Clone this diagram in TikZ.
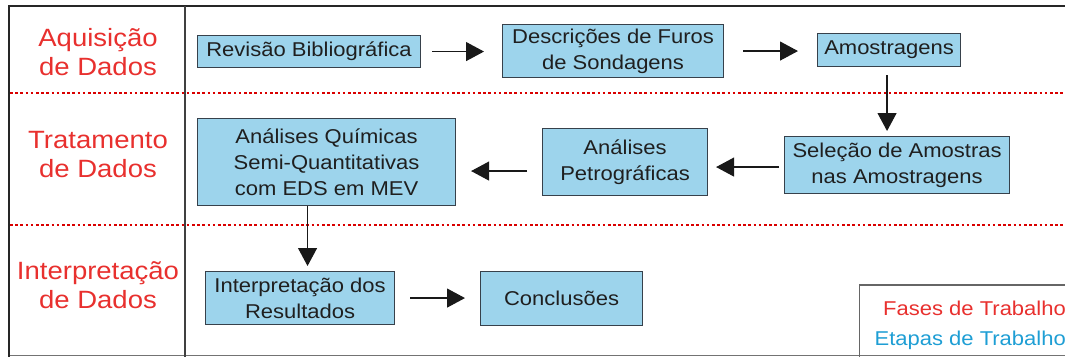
\documentclass[tikz,border=0pt]{standalone}
\usepackage{fontspec}
\setmainfont{Liberation Sans}[FakeStretch=1.1]
\usetikzlibrary{arrows.meta}
\definecolor{phasered}{RGB}{232,48,46}
\definecolor{stepblue}{RGB}{30,158,212}
\definecolor{boxfill}{RGB}{157,212,236}
\definecolor{boxline}{RGB}{55,65,75}
\tikzset{
  stepbox/.style={draw=boxline, line width=1.1pt, fill=boxfill, inner sep=0pt, anchor=north west,
    align=center, font=\fontsize{20}{26}\selectfont, text=black!88},
  phase/.style={text=phasered, align=center, font=\fontsize{25}{29}\selectfont, inner sep=0pt},
  flow/.style={line width=1.2pt, draw=black!90, -{Triangle[length=18pt,width=19pt]}},
  sepline/.style={draw=red!85!black, line width=1.3pt, dash pattern=on 2.6pt off 2.6pt},
}
\begin{document}
\begin{tikzpicture}[x=1pt,y=-1pt]
\useasboundingbox (0,0) rectangle (1065,356);
% frame
\draw[black!55, line width=1pt] (9,355.5) -- (1065,355.5);
\draw[black!85, line width=2.5pt] (9,6) -- (1066,6);
\draw[black!85, line width=2pt] (9,5) -- (9,357);
\draw[black!75, line width=1.2pt] (185,6) -- (185,357);
% separators
\draw[sepline] (10,93) -- (1065,93);
\draw[sepline] (10,225) -- (1065,225);
% phases
\node[phase] (p1) at (98,52) {Aquisição\\de Dados};
\node[phase] (p2) at (98,155) {Tratamento\\de Dados};
\node[phase] (p3) at (98,285) {Interpretação\\de Dados};
% steps
\node[stepbox, minimum width=223pt, minimum height=32pt] (rev) at (197,35) {Revisão Bibliográfica};
\node[stepbox, minimum width=221pt, minimum height=53pt] (des) at (502,24) {Descrições de Furos\\de Sondagens};
\node[stepbox, minimum width=143pt, minimum height=33pt] (amo) at (817,33) {Amostragens};
\node[stepbox, minimum width=225pt, minimum height=57pt] (sel) at (784,136) {Seleção de Amostras\\nas Amostragens};
\node[stepbox, minimum width=165pt, minimum height=67pt] (pet) at (542,128) {Análises\\Petrográficas};
\node[stepbox, minimum width=258pt, minimum height=87pt] (qui) at (197,118) {Análises Químicas\\Semi-Quantitativas\\com EDS em MEV};
\node[stepbox, minimum width=189pt, minimum height=53pt] (int) at (205,271) {Interpretação dos\\Resultados};
\node[stepbox, minimum width=162pt, minimum height=54pt] (con) at (480,271) {Conclusões};
% connectors
\draw[flow, shorten <=11pt, shorten >=18pt] (rev.east) -- (rev.east -| des.west);
\draw[flow, shorten <=19pt, shorten >=19pt] (des.east) -- (des.east -| amo.west);
\draw[flow, shorten <=8pt, shorten >=5pt] ([xshift=-2pt]amo.south) -- ([xshift=-2pt]amo.south |- sel.north);
\draw[flow, shorten <=5pt, shorten >=8pt] ([yshift=-2pt]sel.west) -- ([yshift=-2pt]sel.west -| pet.east);
\draw[flow, shorten <=15pt, shorten >=15pt] ([yshift=-9pt]pet.west) -- ([yshift=-9pt]pet.west -| qui.east);
\draw[flow, shorten >=5pt] ([xshift=-19pt]qui.south) -- ([xshift=-19pt]qui.south |- int.north);
\draw[flow, shorten <=15pt, shorten >=15pt] (int.east) -- (int.east -| con.west);
% legend
\draw[black!60, line width=1.5pt] (1070,285) -- (859.5,285) -- (859.5,360);
\node[anchor=base east, inner sep=0pt, text=phasered, font=\fontsize{20}{24}\selectfont] (lf) at (1066,315) {Fases de Trabalho};
\node[anchor=base east, inner sep=0pt, text=stepblue, font=\fontsize{20}{24}\selectfont] (le) at (1066,345) {Etapas de Trabalho};
\end{tikzpicture}
\end{document}
